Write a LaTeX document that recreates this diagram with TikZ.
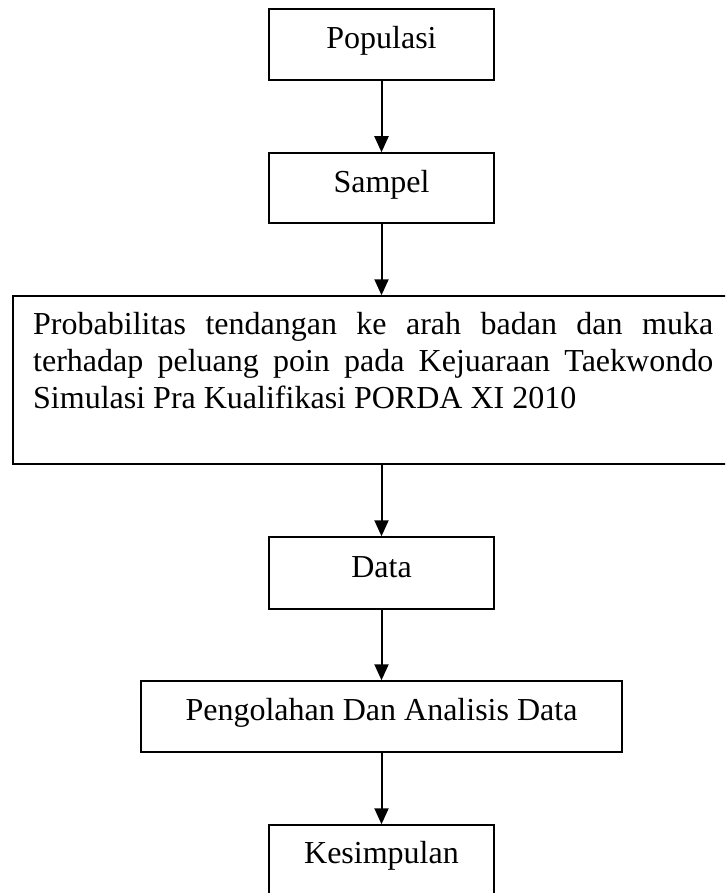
\documentclass[tikz,border=0pt]{standalone}
\usepackage{fontspec}
\setmainfont{Liberation Serif}
\usetikzlibrary{arrows.meta}
\tikzset{
  box/.style={draw=black, line width=1.5pt, rectangle, inner sep=0pt},
  lbl/.style={inner sep=0pt, font=\fontsize{32pt}{37pt}\selectfont, anchor=base},
  arr/.style={line width=2pt, -{Triangle[length=16pt,width=14pt]}},
}
\begin{document}
\begin{tikzpicture}[x=1pt,y=-1pt]
\clip (0,0) rectangle (725,893);
\fill[white] (0,0) rectangle (725,893);
% boxes
\node[box, minimum width=225pt, minimum height=71pt] (pop) at (381.5,44.5) {};
\node[box, minimum width=225pt, minimum height=70pt] (samp) at (381.5,188) {};
\node[box, minimum width=727pt, minimum height=168pt] (big) at (376.5,380) {};
\node[box, minimum width=225pt, minimum height=72pt] (data) at (381.5,573) {};
\node[box, minimum width=481pt, minimum height=71pt] (olah) at (381.5,716.5) {};
\node[box, minimum width=225pt, minimum height=71pt] (kes) at (381.5,860.5) {};
% texts
\node[lbl] (popt) at (381.5,49) {Populasi};
\node[lbl] (sampt) at (381.5,193) {Sampel};
\node[lbl, anchor=base west, align=left] (bigt) at (33,408) {\makebox[680pt][s]{Probabilitas tendangan ke arah badan dan muka}\\
\makebox[680pt][s]{terhadap peluang poin pada Kejuaraan Taekwondo}\\
Simulasi Pra Kualifikasi PORDA XI 2010};
\node[lbl] (datat) at (381.5,577) {Data};
\node[lbl] (olaht) at (381.5,720) {Pengolahan Dan Analisis Data};
\node[lbl] (kest) at (381.5,863) {Kesimpulan};
% connectors
\draw[arr] (pop.south) -- (samp.north);
\draw[arr] (samp.south) -- (samp.south |- big.north);
\draw[arr] (data.north |- big.south) -- (data.north);
\draw[arr] (data.south) -- (olah.north);
\draw[arr] (olah.south) -- (kes.north);
\end{tikzpicture}
\end{document}
